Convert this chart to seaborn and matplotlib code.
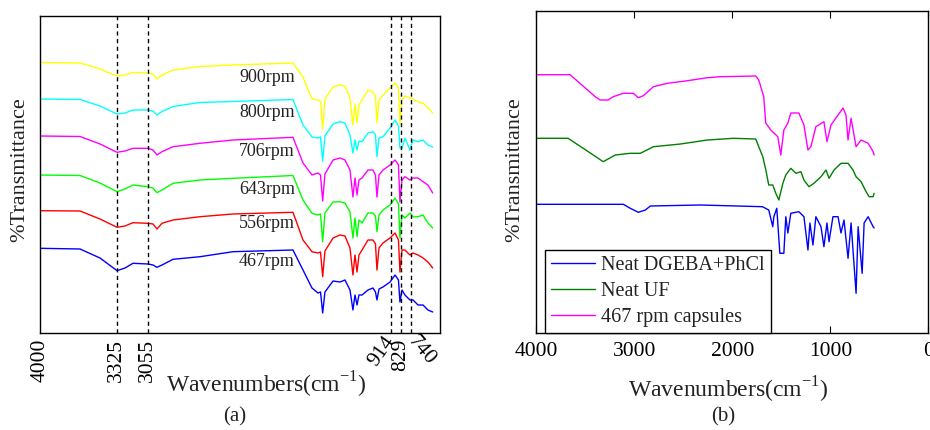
import matplotlib
matplotlib.use("Agg")
import numpy as np
import pandas as pd
import matplotlib.pyplot as plt
import seaborn as sns

# ---------------- data: panel (a) ----------------
wn_a = [4000, 3648, 3473, 3323, 3253, 3183, 3051, 3007, 2972, 2928, 2831, 2594, 2304,
        1777, 1689, 1610, 1557, 1535, 1516, 1496, 1425, 1364, 1320, 1276, 1250, 1232,
        1214, 1197, 1170, 1118, 1074, 1052, 1039, 1021, 986, 924, 880, 850, 837, 819,
        793, 749, 722, 678, 634, 591, 549]

t_900 = [270.5, 270, 264, 257, 258, 260.5, 260, 259, 254, 258, 263, 266.5, 268, 270, 256,
         234, 233, 232, 204, 234, 246, 248, 247, 235, 208, 229, 210, 228, 233, 243, 241,
         237, 210, 233, 238, 245, 250, 245, 209, 233, 237, 235, 234, 231, 230, 225, 220]
t_800 = [234, 233.5, 227, 219, 220, 223, 223, 222, 218, 221.5, 226.5, 230.5, 231.5, 233.5,
         208, 196, 195, 196, 172, 197, 209, 211.3, 210, 198, 180, 193, 183, 192, 191.3, 200,
         201.3, 198, 176.3, 195, 196.3, 205, 213, 207, 185, 185, 195, 183, 193, 191.3, 193,
         188, 186]
t_706 = [197, 196.5, 189, 180.7, 182, 184.7, 184.7, 183, 178, 181.3, 186.3, 189.7, 193,
         195.7, 170, 158, 160, 158, 132, 159, 173, 175, 173, 163, 136, 155, 138, 153, 155,
         163, 163, 158, 136, 158, 163, 168, 173, 168, 131, 153, 156.3, 153, 155, 155, 151.3,
         148, 140]
t_643 = [158, 157.5, 150, 141.3, 144, 148, 146.3, 145, 140.3, 143, 149.7, 153, 154.7, 157.5,
         133, 119.7, 118, 119, 91.3, 120, 131, 131.3, 130, 121, 95, 115, 96.3, 113, 110, 120,
         120, 117, 101.3, 118, 123, 128, 135, 129, 95, 118, 115, 120, 116, 116.3, 118, 110,
         105]
t_556 = [122.3, 122, 114, 105.7, 107, 110.3, 109.7, 109, 104, 109.7, 113, 116.3, 119, 120.7,
         93, 81.3, 80, 81, 56.3, 82, 95, 98, 97, 85, 58, 78, 61, 78, 83, 93, 93, 89, 63, 85,
         90, 95, 100, 93, 61, 83, 83, 78, 80, 78, 75, 71, 65]
t_467 = [84.7, 84, 75, 62.3, 65, 69.7, 69, 68, 65.7, 68, 73.7, 76.3, 81.3, 83, 63, 45, 40,
         41, 20, 41, 52, 51, 53, 43, 23, 38, 28, 38, 38, 43, 45, 41, 33, 44, 46, 51, 58, 53,
         31, 43, 38, 33, 33, 28, 28, 23, 21]

series_a = ["900rpm", "800rpm", "706rpm", "643rpm", "556rpm", "467rpm"]
values_a = [t_900, t_800, t_706, t_643, t_556, t_467]
colors_a = ["#FFFF00", "#00FFFF", "#FF00FF", "#00FF00", "#FF0000", "#0000FF"]
label_y_a = [256, 221, 182, 144, 110, 71]

marker_lines = [3325, 3055, 914, 829, 740]
ticks_a = [4000, 3325, 3055, 914, 829, 740]
ticklabels_a = ["4000", "3325", "3055", "914", "829", "740"]

# ---------------- data: panel (b) ----------------
wn_dgeba = [4000, 3112, 3041, 2959, 2887, 2836, 2325, 1692, 1628, 1587, 1576, 1546, 1515,
            1474, 1454, 1433, 1403, 1321, 1269, 1228, 1208, 1177, 1147, 1095, 1065, 1034,
            1013, 973, 921, 891, 860, 819, 788, 737, 716, 675, 655, 614, 563, 553]
t_dgeba = [129, 129, 125, 121, 123.3, 127.3, 128.3, 126.6, 123.3, 106.6, 116.6, 125, 80, 80,
           116.6, 100.3, 120, 121.6, 116.6, 83.3, 110.3, 88.3, 116.6, 106.6, 86.6, 110.3,
           91.6, 116.6, 116.6, 100.3, 113.3, 75, 110.3, 40, 106.6, 60, 110.3, 116.6, 106.6,
           105.3]

wn_uf = [4000, 3675, 3419, 3317, 3194, 3041, 2938, 2805, 2529, 2253, 1987, 1761, 1730, 1689,
         1658, 1628, 1587, 1556, 1525, 1484, 1454, 1403, 1351, 1300, 1269, 1218, 1167, 1095,
         1044, 1013, 962, 891, 819, 768, 737, 686, 635, 604, 563, 553]
t_uf = [195, 195, 178.3, 171.6, 178.3, 180, 180, 186.6, 189.3, 193.3, 195, 194.3, 186.6,
        176.6, 163.3, 148.3, 148.3, 140, 133.3, 150, 158.3, 165, 160, 161.6, 153.3, 146.6,
        150, 156.6, 163.3, 155, 163.3, 170, 170, 163.3, 156.6, 151.6, 141.6, 136.6, 136.6, 140]

wn_caps = [4000, 3655, 3399, 3348, 3266, 3215, 3112, 3010, 2959, 2908, 2805, 2662, 2457,
           2253, 2120, 1761, 1730, 1679, 1659, 1607, 1536, 1505, 1474, 1433, 1403, 1321,
           1269, 1228, 1198, 1147, 1065, 1034, 993, 870, 840, 819, 788, 737, 686, 614, 563,
           553]
t_caps = [258.6, 258.6, 236.6, 233.3, 233.3, 236.6, 240, 240, 235.6, 237.6, 246.6, 250,
          252.6, 255.6, 256.6, 257.3, 253.3, 236.6, 210.3, 203.3, 196.6, 178.3, 203.3, 210.3,
          220.3, 220.3, 208.3, 183.3, 186.6, 206.6, 211.6, 191.6, 208.3, 225.3, 218.3, 193.3,
          215, 186.6, 193.3, 190, 181.6, 178.3]

series_b = ["Neat DGEBA+PhCl", "Neat UF", "467 rpm capsules"]
colors_b = ["#0000FF", "#008000", "#FF00FF"]
ticks_b = [4000, 3000, 2000, 1000, 0]

# ---------------- build frames ----------------
df_a = pd.concat([pd.DataFrame({"wn": wn_a, "T": v, "series": s})
                  for s, v in zip(series_a, values_a)], ignore_index=True)
df_b = pd.concat([
    pd.DataFrame({"wn": wn_dgeba, "T": t_dgeba, "series": series_b[0]}),
    pd.DataFrame({"wn": wn_uf, "T": t_uf, "series": series_b[1]}),
    pd.DataFrame({"wn": wn_caps, "T": t_caps, "series": series_b[2]}),
], ignore_index=True)

sns.set_theme(style="white")
plt.rcParams["font.family"] = ["Liberation Serif", "DejaVu Serif"]
plt.rcParams["axes.edgecolor"] = "black"
plt.rcParams["axes.linewidth"] = 1.0

fig = plt.figure(figsize=(9.3, 4.3), dpi=100)
ax1 = fig.add_axes([40 / 930, 97 / 430, 400 / 930, 317 / 430])
ax2 = fig.add_axes([536.3 / 930, 96.7 / 430, 392 / 930, 322.3 / 430])

# ---------- panel (a) ----------
sns.lineplot(data=df_a, x="wn", y="T", hue="series", palette=dict(zip(series_a, colors_a)),
             sort=False, estimator=None, legend=False, lw=1.0, ax=ax1)
for w in marker_lines:
    ax1.axvline(w, color="black", ls=(0, (3, 2.5)), lw=1.0, zorder=5)
for s, yv in zip(series_a, label_y_a):
    ax1.text(1760, yv, s, ha="right", va="center", fontsize=13, color="#222222")
ax1.set_xlim(4000, 485)
ax1.set_ylim(0, 317)
ax1.set_yticks([])
ax1.set_xticks(ticks_a)
ax1.set_xticklabels(ticklabels_a)
ax1.tick_params(axis="x", direction="in", length=0, pad=4, labelsize=15.5, colors="black")
rots = [90, 90, 90, 55, 90, -50]
for lab, r in zip(ax1.get_xticklabels(), rots):
    lab.set_rotation(r)
    lab.set_rotation_mode("anchor")
    if r < 0:
        lab.set_ha("left")
    else:
        lab.set_ha("right")
    lab.set_va("center")
ax1.set_xlabel("")
ax1.set_ylabel("")

# ---------- panel (b) ----------
sns.lineplot(data=df_b, x="wn", y="T", hue="series", palette=dict(zip(series_b, colors_b)),
             sort=False, estimator=None, lw=1.0, ax=ax2)
ax2.set_xlim(4000, 0)
ax2.set_ylim(0, 322.3)
ax2.set_yticks([])
ax2.set_xticks(ticks_b)
ax2.set_xticklabels([str(t) for t in ticks_b])
ax2.tick_params(axis="x", direction="in", length=5, width=0.8, top=True, bottom=True,
                labelsize=15.5, pad=6, colors="black")
ax2.set_xlabel("")
ax2.set_ylabel("")
leg = ax2.legend(loc="lower left", fontsize=14.5, frameon=True, fancybox=False,
                 edgecolor="black", framealpha=1, borderaxespad=0.0,
                 bbox_to_anchor=(0.022, 0.0), handlelength=2.2, handletextpad=0.3,
                 labelspacing=0.35, borderpad=0.3)
leg.get_frame().set_linewidth(1.0)
for t in leg.get_texts():
    t.set_color("#222222")

for ax in (ax1, ax2):
    for sp in ax.spines.values():
        sp.set_visible(True)
        sp.set_color("black")

xl = r"Wavenumbers(cm$^{\mathregular{-1}}$)"
fig.text(266 / 930, 1 - 385 / 430, xl, ha="center", va="center", fontsize=17, color="#222222")
fig.text(728 / 930, 1 - 390 / 430, xl, ha="center", va="center", fontsize=17, color="#222222")
fig.text(235 / 930, 1 - 417 / 430, "(a)", ha="center", va="center", fontsize=15, color="#222222")
fig.text(723 / 930, 1 - 417 / 430, "(b)", ha="center", va="center", fontsize=15, color="#222222")
fig.text(20 / 930, 1 - 170 / 430, "%Transmittance", rotation=90, ha="center", va="center",
         fontsize=16, color="#222222")
fig.text(515 / 930, 1 - 170 / 430, "%Transmittance", rotation=90, ha="center", va="center",
         fontsize=16, color="#222222")

fig.savefig("out.png", dpi=100)
